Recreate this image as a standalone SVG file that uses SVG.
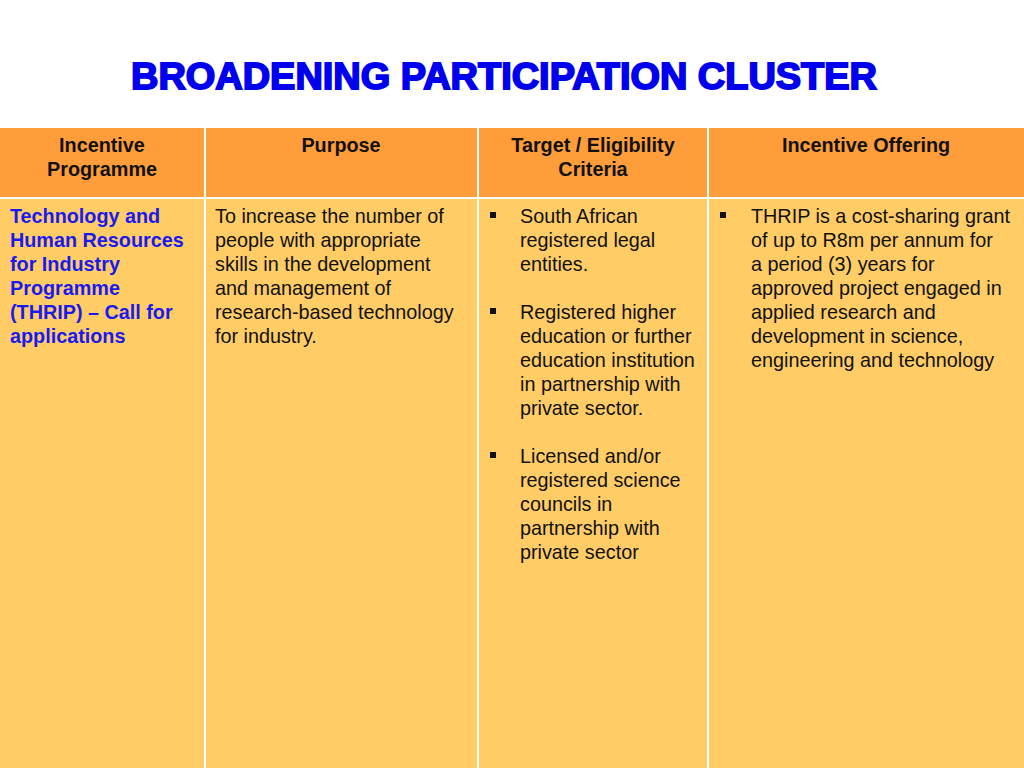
<svg xmlns="http://www.w3.org/2000/svg" width="1024" height="768" viewBox="0 0 1024 768">
<style>
.t{font-family:"Liberation Sans",Arial,sans-serif;font-size:19.8px;fill:#111}
.h{font-weight:bold;text-anchor:middle}
.b{font-weight:bold;fill:#1a1aee}
.hd{fill:#FF9D3A}
.bd{fill:#FFCC66}
</style>
<rect width="1024" height="768" fill="#fff"/>
<text x="504" y="89" text-anchor="middle" textLength="746" lengthAdjust="spacingAndGlyphs" font-family="'Liberation Sans',Arial,sans-serif" font-weight="bold" font-size="37" fill="#0000ee" stroke="#0000ee" stroke-width="1.8">BROADENING PARTICIPATION CLUSTER</text>
<g id="header">
<rect class="hd" x="0" y="128" width="204" height="69"/>
<rect class="hd" x="206" y="128" width="271" height="69"/>
<rect class="hd" x="479" y="128" width="228" height="69"/>
<rect class="hd" x="709" y="128" width="315" height="69"/>
<text class="t h" x="102" y="152">Incentive</text>
<text class="t h" x="102" y="176">Programme</text>
<text class="t h" x="341" y="152">Purpose</text>
<text class="t h" x="593" y="152">Target / Eligibility</text>
<text class="t h" x="593" y="176">Criteria</text>
<text class="t h" x="866" y="152">Incentive Offering</text>
</g>
<g id="body">
<rect class="bd" x="0" y="199" width="204" height="569"/>
<rect class="bd" x="206" y="199" width="271" height="569"/>
<rect class="bd" x="479" y="199" width="228" height="569"/>
<rect class="bd" x="709" y="199" width="315" height="569"/>
<text class="t b"><tspan x="10" y="223">Technology and</tspan><tspan x="10" y="247">Human Resources</tspan><tspan x="10" y="271">for Industry</tspan><tspan x="10" y="295">Programme</tspan><tspan x="10" y="319">(THRIP) – Call for</tspan><tspan x="10" y="343">applications</tspan></text>
<text class="t"><tspan x="215" y="223">To increase the number of</tspan><tspan x="215" y="247">people with appropriate</tspan><tspan x="215" y="271">skills in the development</tspan><tspan x="215" y="295">and management of</tspan><tspan x="215" y="319">research-based technology</tspan><tspan x="215" y="343">for industry.</tspan></text>
<rect x="490" y="212" width="6" height="6" fill="#111"/>
<rect x="490" y="308" width="6" height="6" fill="#111"/>
<rect x="490" y="452" width="6" height="6" fill="#111"/>
<text class="t"><tspan x="520" y="223">South African</tspan><tspan x="520" y="247">registered legal</tspan><tspan x="520" y="271">entities.</tspan><tspan x="520" y="319">Registered higher</tspan><tspan x="520" y="343">education or further</tspan><tspan x="520" y="367">education institution</tspan><tspan x="520" y="391">in partnership with</tspan><tspan x="520" y="415">private sector.</tspan><tspan x="520" y="463">Licensed and/or</tspan><tspan x="520" y="487">registered science</tspan><tspan x="520" y="511">councils in</tspan><tspan x="520" y="535">partnership with</tspan><tspan x="520" y="559">private sector</tspan></text>
<rect x="720" y="212" width="6" height="6" fill="#111"/>
<text class="t"><tspan x="751" y="223">THRIP is a cost-sharing grant</tspan><tspan x="751" y="247">of up to R8m  per annum for</tspan><tspan x="751" y="271">a period (3) years for</tspan><tspan x="751" y="295">approved project engaged in</tspan><tspan x="751" y="319">applied research and</tspan><tspan x="751" y="343">development in science,</tspan><tspan x="751" y="367">engineering and technology</tspan></text>
</g>
</svg>
